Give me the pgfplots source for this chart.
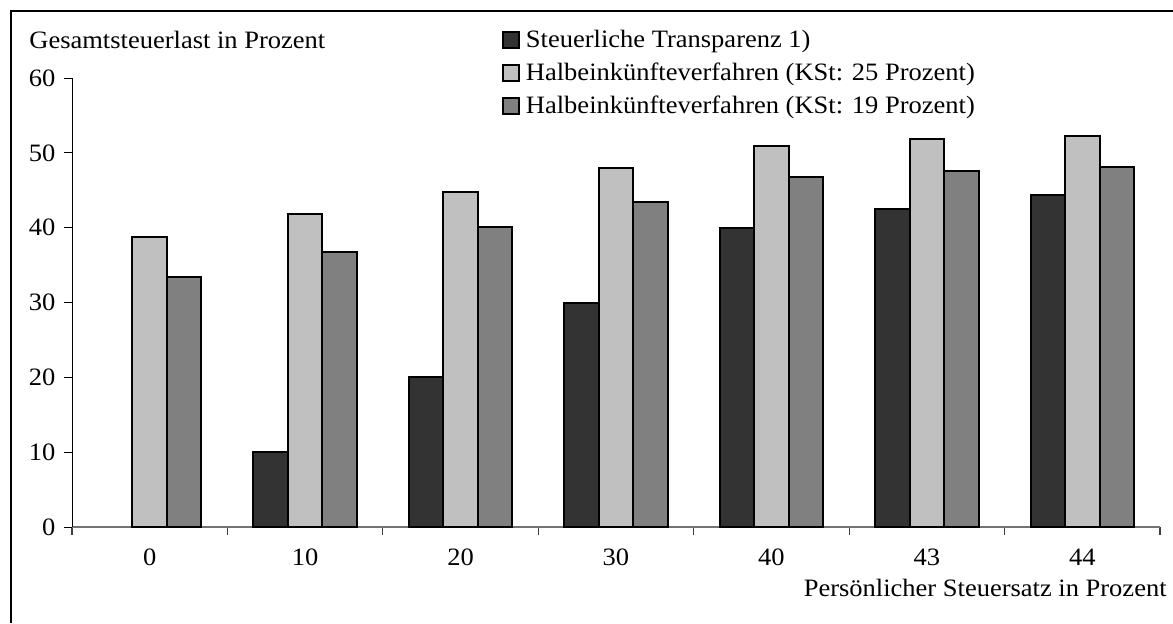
\documentclass[border=0pt]{standalone}
\usepackage{fontspec}
\setmainfont{Liberation Serif}[FakeStretch=1.06]
\usepackage{pgfplots}
\pgfplotsset{compat=1.18}
\definecolor{darkbar}{HTML}{333333}
\definecolor{lightbar}{HTML}{C0C0C0}
\definecolor{midbar}{HTML}{808080}
\pgfplotsset{
  boxlegend/.style={legend image code/.code={\draw[##1,line width=1pt] (0pt,-3.5pt) rectangle (8pt,4.5pt);}},
}
\begin{document}
\fontsize{12.5}{15}\selectfont
\begin{tikzpicture}
\useasboundingbox (-36pt,-48pt) rectangle (550.5pt,263.5pt);
\draw[line width=1.25pt] (-30.5pt,-48pt) -- (-30.5pt,258pt) -- (551pt,258pt);
\begin{axis}[
  scale only axis, width=544pt, height=224.5pt,
  xmin=-0.5, xmax=6.5, ymin=0, ymax=60,
  axis x line*=bottom, axis y line*=left,
  x axis line style={-, draw=black!55, line width=0.6pt},
  y axis line style={-, draw=black, line width=0.5pt},
  tick align=outside,
  major tick length=4pt, minor tick length=4pt,
  ytick={0,10,...,60},
  xtick={0,...,6}, xticklabels={0,10,20,30,40,43,44},
  minor xtick={-0.5,0.5,...,6.5},
  every major x tick/.style={draw=none},
  every minor x tick/.style={draw=black!75, line width=0.6pt},
  every major y tick/.style={draw=black, line width=0.5pt},
  /pgf/number format/assume math mode=true,
  xticklabel style={yshift=-2.5pt},
  ybar=0pt, bar width=17.25pt,
  legend style={draw=none, fill=none, inner sep=0pt, outer sep=0pt,
    at={(0.3952,1.1091)}, anchor=north west,
    row sep=4.5pt, column sep=3pt,
    nodes={inner sep=0pt, text height=9pt, text depth=3pt}},
  legend cell align=left,
]
\addplot[boxlegend, draw=black, line width=1pt, fill=darkbar]
  coordinates {(1,10) (2,20) (3,30) (4,40) (5,42.5) (6,44.3)};
\addlegendentry{Steuerliche Transparenz 1)}
\addplot[boxlegend, draw=black, line width=1pt, fill=lightbar]
  coordinates {(0,38.7) (1,41.8) (2,44.8) (3,48.0) (4,50.9) (5,51.8) (6,52.3)};
\addlegendentry{Halbeinkünfteverfahren (KSt: 25 Prozent)}
\addplot[boxlegend, draw=black, line width=1pt, fill=midbar]
  coordinates {(0,33.4) (1,36.8) (2,40.1) (3,43.4) (4,46.8) (5,47.6) (6,48.1)};
\addlegendentry{Halbeinkünfteverfahren (KSt: 19 Prozent)}
\end{axis}
\node[anchor=base west, inner sep=0pt] at (-21.5pt,239.5pt) {Gesamtsteuerlast in Prozent};
\node[anchor=base east, inner sep=0pt] at (547.5pt,-34.5pt) {Persönlicher Steuersatz in Prozent};
\end{tikzpicture}
\end{document}
